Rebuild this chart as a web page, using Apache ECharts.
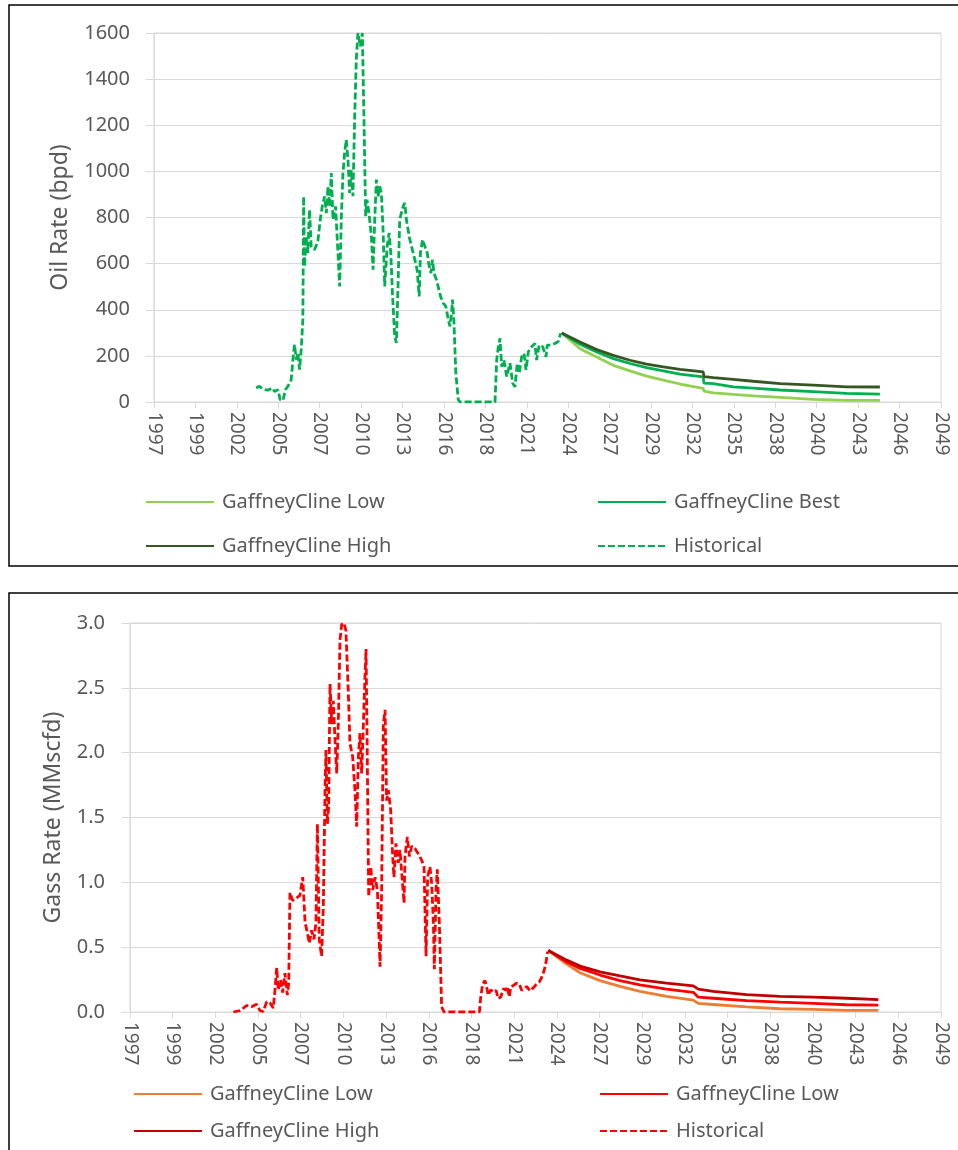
<!DOCTYPE html>
<html><head><meta charset="utf-8">
<script src="https://cdn.jsdelivr.net/npm/echarts@6/dist/echarts.min.js"></script>
<style>html,body{margin:0;padding:0;background:#fff}#c{width:958px;height:1150px}</style>
</head><body><div id="c"></div>
<script>
// x tick labels (ticks every 1000 days from 1 Jan 1997)
const tickLabels = ['1997','1999','2002','2005','2007','2010','2013','2016','2018','2021','2024','2027','2029','2032','2035','2038','2040','2043','2046','2049'];

// legend labels
const oilLabels = { oilLow: 'GaffneyCline Low', oilBest: 'GaffneyCline Best', oilHigh: 'GaffneyCline High', oilHist: 'Historical' };
const gasLabels = { gasLow: 'GaffneyCline Low', gasMid: 'GaffneyCline Low', gasHigh: 'GaffneyCline High', gasHist: 'Historical' };

// ---- Oil historical (decimal year, bpd)
const oilHistYears = [2003.75,2003.97,2004.19,2004.52,2004.81,2004.97,2005.19,2005.34,2005.52,2005.69,2005.85,2006.07,2006.22,2006.29,2006.40,2006.51,2006.62,2006.73,2006.84,2006.89,2006.95,2007.06,2007.17,2007.28,2007.39,2007.61,2007.83,2007.99,2008.12,2008.28,2008.39,2008.50,2008.61,2008.72,2008.83,2009.00,2009.16,2009.27,2009.38,2009.49,2009.60,2009.71,2009.82,2009.93,2010.04,2010.15,2010.26,2010.37,2010.48,2010.64,2010.77,2010.88,2010.99,2011.08,2011.21,2011.37,2011.48,2011.59,2011.70,2011.81,2011.92,2012.03,2012.14,2012.25,2012.41,2012.54,2012.65,2012.76,2012.91,2013.02,2013.13,2013.24,2013.35,2013.47,2013.58,2013.68,2013.91,2014.08,2014.24,2014.39,2014.53,2014.61,2014.75,2014.90,2015.06,2015.19,2015.30,2015.41,2015.50,2015.67,2015.78,2015.94,2016.12,2016.29,2016.45,2016.56,2016.67,2016.73,2016.82,2016.95,2017.11,2017.22,2019.54,2019.65,2019.76,2019.87,2019.98,2020.13,2020.31,2020.53,2020.71,2020.86,2021.01,2021.14,2021.30,2021.46,2021.59,2021.74,2021.96,2022.18,2022.29,2022.46,2022.69,2022.91,2022.99,2023.28,2023.50,2023.72,2023.88];
const oilHistValues = [61,68,56,51,61,46,53,10,6,53,68,97,212,249,184,212,140,227,357,892,588,718,646,834,675,660,697,791,848,892,819,935,848,993,791,848,646,501,791,993,1080,1137,1051,906,1007,892,1224,1484,1600,1542,1600,1224,805,877,819,718,574,791,964,892,935,906,747,501,675,733,646,473,285,256,501,791,819,848,863,791,704,660,617,574,458,646,704,675,646,588,559,617,559,530,501,458,429,415,357,328,386,444,357,126,10,0,0,182,240,276,153,182,110,168,81,66,168,124,196,211,139,218,240,254,182,247,240,196,247,247,254,262,298];

// ---- Oil forecasts
const oilFcYears = [2023.95,2025.16,2026.26,2027.36,2028.46,2029.56,2030.66,2031.77,2033.30,2033.35,2033.97,2035.29,2036.61,2038.38,2040.58,2042.78,2044.98];
const oilLow  = [299,231,195,159,135,112,95,78,59,47,40,33,27,20,11,7,7];
const oilBest = [299,250,217,188,167,149,135,121,109,82,80,66,60,52,45,37,34];
const oilHigh = [299,260,227,202,181,164,152,141,131,110,106,98,90,80,73,66,65];

// ---- Gas historical (decimal year, MMscfd)
const gasHistYears = [2003.63,2004.06,2004.48,2004.80,2005.12,2005.34,2005.55,2005.77,2005.98,2006.19,2006.30,2006.41,2006.51,2006.66,2006.79,2006.94,2007.09,2007.18,2007.26,2007.43,2007.69,2007.90,2008.08,2008.23,2008.38,2008.50,2008.65,2008.80,2008.93,2009.02,2009.14,2009.29,2009.40,2009.51,2009.57,2009.66,2009.74,2009.83,2009.94,2010.04,2010.15,2010.26,2010.36,2010.47,2010.58,2010.73,2010.85,2011.00,2011.11,2011.28,2011.43,2011.54,2011.65,2011.75,2011.86,2011.97,2012.08,2012.14,2012.22,2012.31,2012.44,2012.57,2012.72,2012.87,2013.04,2013.14,2013.25,2013.36,2013.46,2013.57,2013.72,2013.85,2013.93,2014.06,2014.21,2014.32,2014.43,2014.58,2014.64,2014.79,2014.92,2015.07,2015.28,2015.49,2015.71,2015.86,2015.99,2016.09,2016.24,2016.35,2016.46,2016.52,2016.63,2016.71,2016.84,2016.99,2017.14,2019.41,2019.50,2019.62,2019.77,2019.88,2019.98,2020.14,2020.30,2020.48,2020.62,2020.78,2020.95,2021.12,2021.20,2021.33,2021.42,2021.59,2021.80,2021.97,2022.12,2022.27,2022.44,2022.66,2022.87,2023.09,2023.25,2023.41,2023.56,2023.68,2023.79];
const gasHistValues = [0,0.01,0.05,0.04,0.06,0.01,0.005,0.08,0.07,0.03,0.17,0.34,0.17,0.25,0.15,0.30,0.13,0.22,0.92,0.86,0.88,0.90,1.04,0.69,0.61,0.53,0.63,0.56,0.69,1.45,0.56,0.43,0.81,1.71,2.02,1.45,1.58,2.53,2.22,2.40,2.10,1.84,2.22,2.87,2.99,3.0,2.94,2.48,2.07,1.97,1.71,1.43,1.97,2.15,1.84,2.22,2.61,2.80,1.97,0.89,1.12,0.94,1.04,0.94,0.35,0.94,2.22,2.33,1.63,1.71,1.56,1.20,1.04,1.30,1.15,1.25,1.07,0.84,1.20,1.35,1.20,1.28,1.26,1.22,1.17,1.12,0.43,1.04,1.12,0.99,0.69,0.33,0.94,1.10,0.69,0.04,0,0,0.116,0.217,0.242,0.19,0.129,0.172,0.154,0.167,0.104,0.116,0.179,0.167,0.197,0.116,0.192,0.205,0.222,0.217,0.167,0.179,0.197,0.162,0.187,0.217,0.23,0.268,0.318,0.381,0.465];

// ---- Gas forecasts
const gasFcYears = [2023.83,2025.01,2025.87,2027.15,2028.43,2029.71,2031.42,2033.13,2033.45,2034.41,2036.55,2038.69,2040.83,2042.97,2045.0];
const gasLow  = [0.475,0.369,0.303,0.242,0.197,0.159,0.121,0.091,0.066,0.058,0.040,0.025,0.020,0.013,0.013];
const gasMid  = [0.475,0.386,0.336,0.285,0.242,0.210,0.177,0.152,0.114,0.106,0.088,0.076,0.066,0.056,0.053];
const gasHigh = [0.475,0.400,0.354,0.310,0.278,0.247,0.222,0.202,0.177,0.159,0.134,0.121,0.114,0.106,0.096];

const toDays = y => (y - 1997) * 365.25;
const pts = (xs, ys) => xs.map((x, i) => [toDays(x), ys[i]]);

const FONT = 'Noto Sans';
const GREY = '#595959';
const GRID = '#d9d9d9';

function xAxisCfg(gridIndex) {
  return {
    type: 'value', gridIndex, min: 0, max: 19000, interval: 1000,
    axisLine: { show: true, lineStyle: { color: GRID, width: 1 } },
    axisTick: { show: true, length: 6, lineStyle: { color: GRID } },
    splitLine: { show: false },
    axisLabel: {
      rotate: -90, margin: 10, color: GREY, fontSize: 19, fontFamily: FONT,
      formatter: v => tickLabels[Math.round(v / 1000)]
    }
  };
}
function yAxisCfg(gridIndex, max, interval, name, gap, dec, margin) {
  return {
    type: 'value', gridIndex, min: 0, max, interval,
    name, nameLocation: 'middle', nameGap: gap,
    nameTextStyle: { color: GREY, fontSize: 23, fontFamily: FONT },
    axisLine: { show: true, lineStyle: { color: GRID } },
    axisTick: { show: true, length: 8, lineStyle: { color: GRID } },
    splitLine: { show: true, lineStyle: { color: GRID, width: 1 } },
    axisLabel: { color: GREY, fontSize: 20, fontFamily: FONT, margin,
      formatter: v => dec ? v.toFixed(dec) : String(v) }
  };
}
function lineSeries(id, xi, data, color, dashed) {
  return {
    name: id, type: 'line', xAxisIndex: xi, yAxisIndex: xi, data,
    symbol: 'none', showSymbol: false, animation: false,
    lineStyle: { color, width: 2.8, type: dashed ? [7, 3] : 'solid' },
    itemStyle: { color }
  };
}
function legendCfg(data, left, top, gap, labels) {
  return {
    data, left, top, orient: 'vertical', itemGap: gap, itemWidth: 68, itemHeight: 14,
    padding: 0, selectedMode: false,
    itemStyle: { opacity: 0 },
    textStyle: { color: GREY, fontSize: 20, fontFamily: FONT, padding: [0, 0, 0, 3] },
    formatter: n => labels[n]
  };
}

const chart = echarts.init(document.getElementById('c'), null, { renderer: 'canvas' });
chart.setOption({
  backgroundColor: '#fff',
  animation: false,
  graphic: [
    { type: 'rect', shape: { x: 9, y: 5, width: 960, height: 561 }, style: { fill: 'none', stroke: '#000', lineWidth: 1.5 }, silent: true, z: -1 },
    { type: 'rect', shape: { x: 9, y: 593, width: 960, height: 600 }, style: { fill: 'none', stroke: '#000', lineWidth: 1.5 }, silent: true, z: -1 }
  ],
  grid: [
    { left: 154, top: 33, width: 787, height: 369, show: true, borderColor: GRID, borderWidth: 1, backgroundColor: 'transparent' },
    { left: 130, top: 623, width: 811, height: 389, show: true, borderColor: GRID, borderWidth: 1, backgroundColor: 'transparent' }
  ],
  xAxis: [xAxisCfg(0), xAxisCfg(1)],
  yAxis: [
    yAxisCfg(0, 1600, 200, 'Oil Rate (bpd)', 82, 0, 24),
    yAxisCfg(1, 3, 0.5, 'Gass Rate (MMscfd)', 65, 1, 25)
  ],
  legend: [
    legendCfg(['oilLow', 'oilHigh'], 145, 492, 24, oilLabels),
    legendCfg(['oilBest', 'oilHist'], 597, 492, 24, oilLabels),
    legendCfg(['gasLow', 'gasHigh'], 133, 1084, 17, gasLabels),
    legendCfg(['gasMid', 'gasHist'], 599, 1084, 17, gasLabels)
  ],
  series: [
    lineSeries('oilHist', 0, pts(oilHistYears, oilHistValues), '#00b050', true),
    lineSeries('oilLow', 0, pts(oilFcYears, oilLow), '#92d050', false),
    lineSeries('oilBest', 0, pts(oilFcYears, oilBest), '#00b050', false),
    lineSeries('oilHigh', 0, pts(oilFcYears, oilHigh), '#375623', false),
    lineSeries('gasHist', 1, pts(gasHistYears, gasHistValues), '#ff0000', true),
    lineSeries('gasLow', 1, pts(gasFcYears, gasLow), '#ed7d31', false),
    lineSeries('gasMid', 1, pts(gasFcYears, gasMid), '#ff0000', false),
    lineSeries('gasHigh', 1, pts(gasFcYears, gasHigh), '#c00000', false)
  ]
});
</script></body></html>
